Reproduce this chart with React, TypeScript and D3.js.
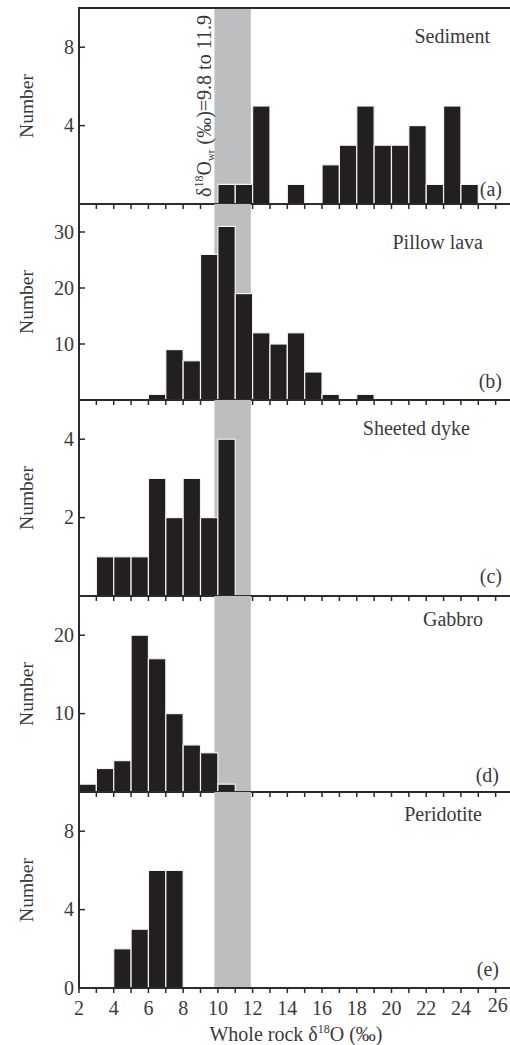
import React from 'react';
import * as d3 from 'd3';

// bin counts, one bar per 1‰ bin, first bin starts at the given value
const sedimentStart = 10;
const sedimentCounts = [1, 1, 5, 0, 1, 0, 2, 3, 5, 3, 3, 4, 1, 5, 1];
const pillowStart = 6;
const pillowCounts = [1, 9, 7, 26, 31, 19, 12, 10, 12, 5, 1, 0, 1];
const dykeStart = 3;
const dykeCounts = [1, 1, 1, 3, 2, 3, 2, 4];
const gabbroStart = 2;
const gabbroCounts = [1, 3, 4, 20, 17, 10, 6, 5, 1];
const peridotiteStart = 4;
const peridotiteCounts = [2, 3, 6, 6];

const panelNames = ['Sediment', 'Pillow lava', 'Sheeted dyke', 'Gabbro', 'Peridotite'];
const panelLetters = ['(a)', '(b)', '(c)', '(d)', '(e)'];
const yMax = [10, 35, 5, 25, 10];
const yTicks = [[4, 8], [10, 20, 30], [2, 4], [10, 20], [0, 4, 8]];
const xTickLabels = [2, 4, 6, 8, 10, 12, 14, 16, 18, 20, 22, 24, 26];
const band = [9.8, 11.9];

const starts = [sedimentStart, pillowStart, dykeStart, gabbroStart, peridotiteStart];
const counts = [sedimentCounts, pillowCounts, dykeCounts, gabbroCounts, peridotiteCounts];

const W = 510;
const H = 1045;
const left = 79;
const top = 8;
const panelH = 196;
const font = '"Liberation Serif", "Times New Roman", serif';
const ink = '#2b2b2b';
const textColor = '#3a3a3a';

// label placement per panel: [right edge, baseline offset from panel top]
const nameAnchor = [[490, 35], [483, 45], [470, 35], [483, 30], [482, 29]];
const letterAnchor = [[502, 188], [502, 184], [502, 183], [499, 186], [499, 184]];

const x = d3.scaleLinear().domain([2, 27]).range([left, left + 25 * 17.36]);

function Panel({ i }: { i: number }) {
  const y0 = top + i * panelH;
  const y = d3.scaleLinear().domain([0, yMax[i]]).range([y0 + panelH, y0]);
  const bars = counts[i]
    .map((c, k) => ({ bin: starts[i] + k, c }))
    .filter((d) => d.c > 0);
  const ticks = d3.range(2, 27, 1);
  const bottom = y0 + panelH;
  return (
    <g>
      <rect
        x={x(band[0])}
        y={y0}
        width={x(band[1]) - x(band[0])}
        height={panelH}
        fill="#bdbec0"
      />
      {bars.map((d) => (
        <rect
          key={d.bin}
          x={x(d.bin)}
          y={y(d.c)}
          width={x(d.bin + 1) - x(d.bin)}
          height={bottom - y(d.c)}
          fill="#231f20"
          stroke="#f2f2f2"
          strokeWidth={1.2}
        />
      ))}
      {/* bottom axis with ticks pointing down */}
      <line x1={left} x2={W + 5} y1={bottom} y2={bottom} stroke={ink} strokeWidth={2} />
      {ticks.map((t) => (
        <line key={t} x1={x(t)} x2={x(t)} y1={bottom} y2={bottom + 5} stroke={ink} strokeWidth={1.5} />
      ))}
      {yTicks[i].map((t) => (
        <g key={t}>
          {t > 0 && (
            <line x1={left} x2={left + 6} y1={y(t)} y2={y(t)} stroke={ink} strokeWidth={1.5} />
          )}
          <text
            x={left - 5}
            y={y(t)}
            dy="0.34em"
            textAnchor="end"
            fontSize={20}
            fill={textColor}
          >
            {t}
          </text>
        </g>
      ))}
      <text
        transform={`translate(33,${y0 + panelH / 2}) rotate(-90)`}
        textAnchor="middle"
        fontSize={19.5}
        fill={textColor}
      >
        Number
      </text>
      <text x={nameAnchor[i][0]} y={y0 + nameAnchor[i][1]} textAnchor="end" fontSize={20} fill={textColor}>
        {panelNames[i]}
      </text>
      <text x={letterAnchor[i][0]} y={y0 + letterAnchor[i][1]} textAnchor="end" fontSize={20} fill={textColor}>
        {panelLetters[i]}
      </text>
    </g>
  );
}

export default function App() {
  const bottom = top + 5 * panelH;
  return (
    <svg
      width={W}
      height={H}
      style={{ position: 'absolute', left: 0, top: 0, background: '#fff' }}
      fontFamily={font}
    >
      {panelNames.map((_, i) => (
        <Panel key={i} i={i} />
      ))}
      {/* frame */}
      <line x1={left} x2={left} y1={top - 1} y2={bottom + 1} stroke={ink} strokeWidth={2} />
      <line x1={left} x2={W + 5} y1={top} y2={top} stroke={ink} strokeWidth={2} />
      {/* band label */}
      <text
        transform={`translate(211,197) rotate(-90)`}
        fontSize={20}
        fill={textColor}
      >
        δ<tspan fontSize={12} dy={-8}>18</tspan>
        <tspan dy={8}>O</tspan>
        <tspan fontSize={11} dy={3}>wr</tspan>
        <tspan dy={-3}> (‰)=9.8 to 11.9</tspan>
      </text>
      {xTickLabels.map((t) => (
        <text
          key={t}
          x={x(t) + (t === 26 ? 2 : 0)}
          y={t === 26 ? 1012 : 1015}
          textAnchor="middle"
          fontSize={20}
          fill={textColor}
        >
          {t}
        </text>
      ))}
      <text x={296} y={1041} textAnchor="middle" fontSize={20} fill={textColor}>
        Whole rock δ<tspan fontSize={12} dy={-8}>18</tspan>
        <tspan dy={8}>O (‰)</tspan>
      </text>
    </svg>
  );
}
